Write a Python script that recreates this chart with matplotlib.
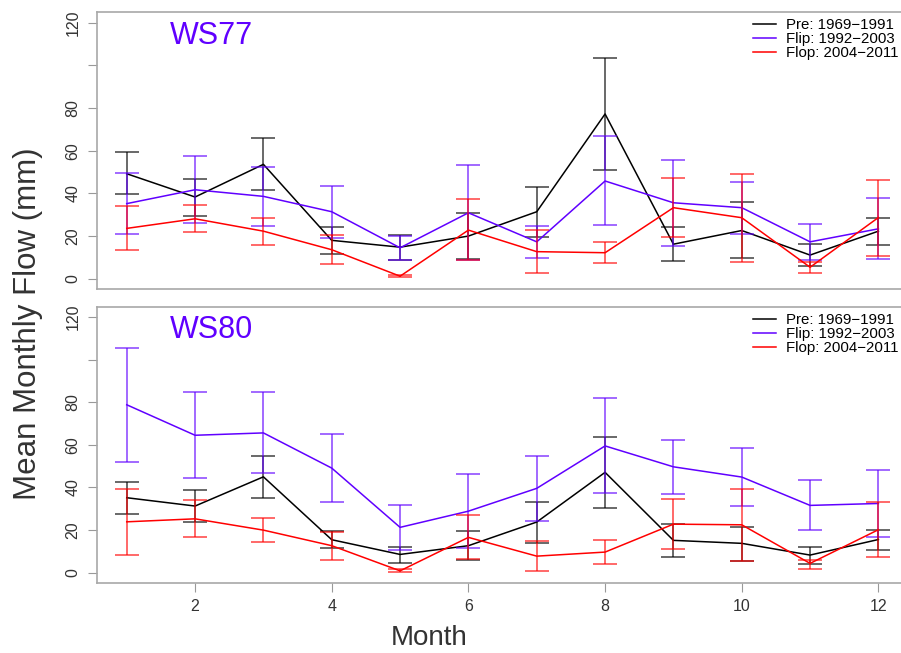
import matplotlib
matplotlib.use("Agg")
import matplotlib.pyplot as plt
import numpy as np

plt.rcParams['font.family'] = ['Liberation Sans', 'DejaVu Sans']

months = np.arange(1, 13)
xticks = [2, 4, 6, 8, 10, 12]
yticks = [0, 20, 40, 60, 80, 100, 120]
yticklabels = ["0", "20", "40", "60", "80", "", "120"]
labels = ["Pre: 1969\u22121991", "Flip: 1992\u22122003", "Flop: 2004\u22122011"]
colors = ["black", "#6000FF", "red"]

# WS77 means and error bar ends
pre77 = [49.2, 38.3, 53.6, 18.0, 14.8, 20.0, 31.4, 77.2, 16.2, 22.6, 11.1, 22.3]
pre77_hi = [59.2, 46.9, 65.8, 24.2, 20.6, 30.6, 42.8, 103.4, 24.2, 35.9, 16.2, 28.7]
pre77_lo = [39.8, 29.4, 41.5, 11.4, 8.6, 9.4, 19.8, 50.9, 8.4, 9.7, 5.9, 15.9]
flip77 = [35.2, 41.7, 38.6, 31.4, 14.5, 30.9, 17.3, 45.8, 35.6, 33.3, 17.3, 23.4]
flip77_hi = [49.4, 57.5, 52.5, 43.4, 20.1, 53.3, 24.8, 66.7, 55.8, 45.5, 25.6, 37.8]
flip77_lo = [20.8, 26.1, 24.7, 19.2, 8.6, 8.9, 9.7, 25.3, 15.3, 21.1, 8.7, 9.2]
flop77 = [23.6, 28.1, 22.3, 13.6, 1.2, 22.8, 12.7, 12.2, 33.3, 28.6, 5.4, 28.7]
flop77_hi = [34.0, 34.5, 28.6, 20.4, 1.9, 37.2, 22.8, 17.2, 47.0, 49.0, 7.8, 46.5]
flop77_lo = [13.3, 22.0, 15.6, 6.7, 0.6, 8.9, 2.5, 7.2, 19.4, 8.0, 2.5, 10.6]

# WS80
pre80 = [35.2, 31.3, 45.0, 15.5, 8.6, 12.7, 23.8, 47.1, 15.2, 13.8, 8.3, 15.6]
pre80_hi = [42.8, 38.6, 55.0, 19.7, 12.2, 19.4, 33.3, 63.6, 22.7, 21.7, 12.2, 20.2]
pre80_lo = [27.7, 23.6, 35.2, 11.4, 4.7, 6.1, 13.8, 30.6, 7.2, 5.6, 4.2, 10.8]
flip80 = [78.8, 64.5, 65.6, 49.1, 21.3, 28.9, 39.6, 59.5, 49.7, 44.9, 31.6, 32.5]
flip80_hi = [105.6, 84.8, 84.8, 65.0, 31.6, 46.4, 55.0, 81.9, 62.3, 58.5, 43.3, 48.0]
flip80_lo = [52.0, 44.4, 46.6, 33.0, 10.6, 11.4, 24.4, 37.4, 36.9, 31.3, 19.9, 16.7]
flop80 = [23.9, 25.3, 20.0, 12.7, 0.9, 16.6, 7.8, 9.7, 22.8, 22.5, 4.4, 20.2]
flop80_hi = [39.2, 33.9, 25.8, 18.9, 1.6, 27.0, 15.0, 15.6, 34.4, 39.4, 5.9, 33.0]
flop80_lo = [8.1, 16.7, 14.2, 5.8, 0.3, 6.3, 0.8, 3.9, 11.3, 5.5, 2.0, 7.5]


def panel(ax, name, series, show_x):
    for (mean, hi, lo), col, lab in zip(series, colors, labels):
        mean = np.array(mean)
        err = [mean - np.array(lo), np.array(hi) - mean]
        ax.errorbar(months, mean, yerr=err, fmt='none', ecolor=col,
                    elinewidth=1.1, capsize=8.6, capthick=1.1, alpha=0.75)
        ax.plot(months, mean, color=col, lw=1.1, label=lab)
    ax.set_xlim(0.56, 12.44)
    ax.set_ylim(-4.8, 124.8)
    ax.set_yticks(yticks)
    ax.set_yticklabels(yticklabels, rotation=90, va='center')
    ax.set_xticks(xticks)
    if not show_x:
        ax.tick_params(axis='x', bottom=False, labelbottom=False)
    ax.tick_params(direction='out', length=6.5, width=0.8, color='#999999',
                   labelcolor='#333333', labelsize=11.5, pad=5)
    for sp in ax.spines.values():
        sp.set_color('#A8A8A8')
        sp.set_linewidth(1.2)
    ax.text(1.63, 110, name, color='#6000FF', fontsize=22, ha='left', va='baseline')
    ax.legend(loc='upper left', bbox_to_anchor=(0.8085, 0.978), frameon=False,
              fontsize=10.8, handlelength=1.54, handletextpad=0.63,
              labelspacing=0.0, borderpad=0, borderaxespad=0)


fig = plt.figure(figsize=(9.01, 6.53), dpi=100)
ax1 = fig.add_axes([0.1073, 0.5574, 0.901, 0.4237])
ax2 = fig.add_axes([0.1073, 0.1072, 0.901, 0.4231])

panel(ax1, "WS77", [(pre77, pre77_hi, pre77_lo), (flip77, flip77_hi, flip77_lo),
                    (flop77, flop77_hi, flop77_lo)], False)
panel(ax2, "WS80", [(pre80, pre80_hi, pre80_lo), (flip80, flip80_hi, flip80_lo),
                    (flop80, flop80_hi, flop80_lo)], True)

fig.text(0.031, 0.505, "Mean Monthly Flow (mm)", rotation=90, ha='center', va='center',
         fontsize=22.5, color='#333333')
fig.text(0.476, 0.023, "Month", ha='center', va='center', fontsize=20, color='#333333')

fig.savefig("out.png", dpi=100)
